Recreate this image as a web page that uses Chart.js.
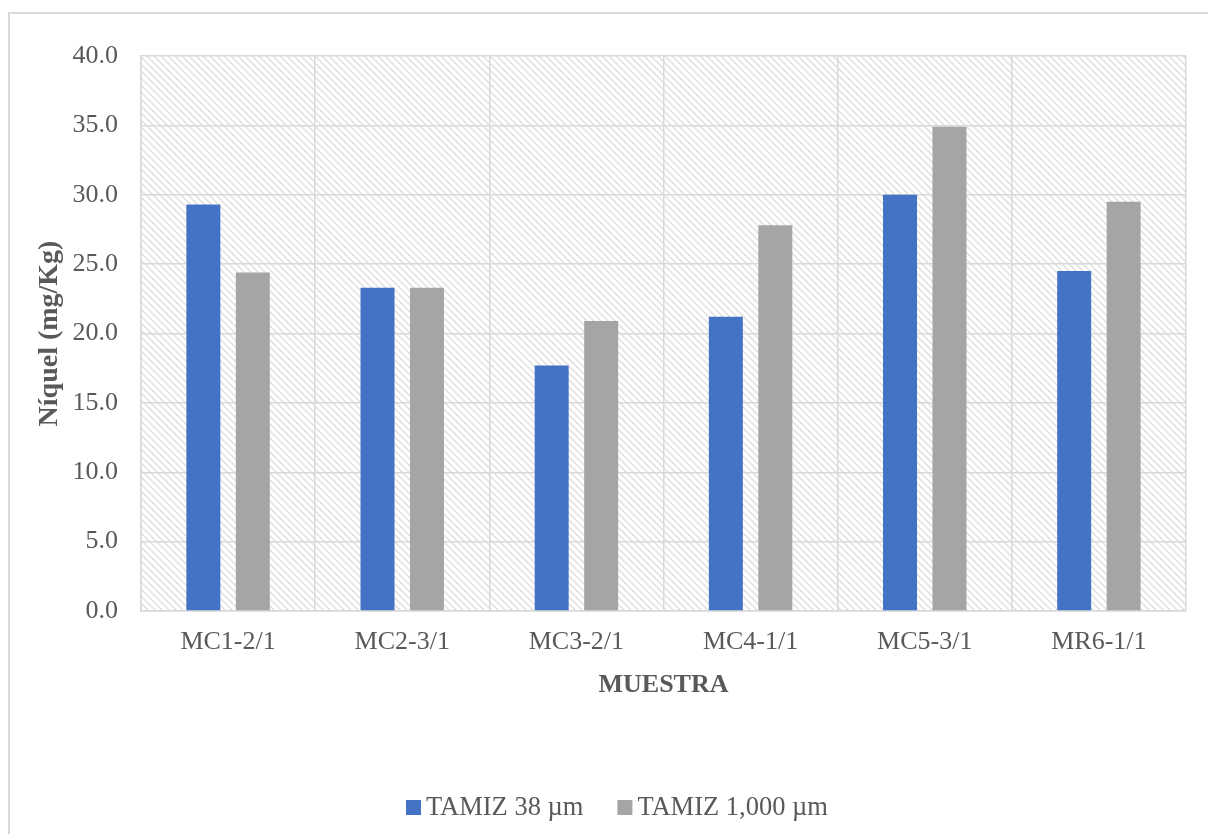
<!DOCTYPE html>
<html>
<head>
<meta charset="utf-8">
<script src="https://cdn.jsdelivr.net/npm/chart.js@4/dist/chart.umd.min.js"></script>
<style>
  html, body { margin: 0; padding: 0; background: #fff; overflow: hidden; }
  #frame { position: absolute; left: 8px; top: 12px; width: 1300px; height: 900px;
           border: 2px solid #d9d9d9; box-sizing: border-box; }
  #wrap { position: absolute; left: 0; top: 0; width: 1208px; height: 834px; }
</style>
</head>
<body>
<div id="frame"></div>
<div id="wrap"><canvas id="c" width="1208" height="834"></canvas></div>
<script>
// Níquel por muestra y tamaño de tamiz
const categories = ['MC1-2/1', 'MC2-3/1', 'MC3-2/1', 'MC4-1/1', 'MC5-3/1', 'MR6-1/1'];
const tamiz38 = [29.3, 23.3, 17.7, 21.2, 30.0, 24.5];
const tamiz1000 = [24.4, 23.3, 20.9, 27.8, 34.9, 29.5];
const seriesNames = ['TAMIZ 38 µm', 'TAMIZ 1,000 µm'];
const yMin = 0, yMax = 40, yStep = 5;

const TEXT = '#595959';
const GRID = '#d9d9d9';
const FONT = "'Liberation Serif', 'Times New Roman', serif";

// diagonal hatch tile for the plot background
const hatchTile = (() => {
  const t = document.createElement('canvas');
  t.width = t.height = 7;
  const g = t.getContext('2d');
  g.strokeStyle = '#dedede';
  g.lineWidth = 1.4;
  g.beginPath();
  g.moveTo(-1, -1); g.lineTo(8, 8);
  g.moveTo(-1, 6); g.lineTo(1, 8);
  g.moveTo(6, -1); g.lineTo(8, 1);
  g.stroke();
  return t;
})();

const hatchBackground = {
  id: 'hatchBackground',
  beforeDraw(chart) {
    const { ctx, chartArea: a } = chart;
    ctx.save();
    ctx.fillStyle = ctx.createPattern(hatchTile, 'repeat');
    ctx.fillRect(a.left, a.top, a.right - a.left, a.bottom - a.top);
    ctx.restore();
  }
};

const bottomLegend = {
  id: 'bottomLegend',
  afterDraw(chart) {
    const ctx = chart.ctx;
    ctx.save();
    ctx.font = '26.5px ' + FONT;
    ctx.textBaseline = 'alphabetic';
    const baseline = 815;
    let x = 406;
    chart.data.datasets.forEach(ds => {
      ctx.fillStyle = ds.backgroundColor;
      ctx.fillRect(x, baseline - 15, 15, 15);
      ctx.fillStyle = TEXT;
      ctx.fillText(ds.label, x + 20, baseline);
      x += 20 + ctx.measureText(ds.label).width + 34;
    });
    ctx.restore();
  }
};

new Chart(document.getElementById('c'), {
  type: 'bar',
  data: {
    labels: categories,
    datasets: [
      { label: seriesNames[0], data: tamiz38, backgroundColor: '#4472C4' },
      { label: seriesNames[1], data: tamiz1000, backgroundColor: '#A5A5A5' }
    ]
  },
  options: {
    responsive: false,
    animation: false,
    layout: { padding: { top: 56, right: 22, bottom: 133, left: 0 } },
    datasets: { bar: { categoryPercentage: 0.568, barPercentage: 0.687 } },
    plugins: { legend: { display: false }, tooltip: { enabled: false } },
    scales: {
      x: {
        grid: { offset: true, color: GRID, lineWidth: 1.5, drawTicks: false },
        border: { color: GRID, width: 1.5 },
        ticks: { color: TEXT, font: { family: FONT, size: 26 }, padding: 16 },
        title: { display: true, text: 'MUESTRA', color: TEXT,
                 font: { family: FONT, size: 26, weight: 'bold' }, padding: { top: 0, bottom: 0 } },
        afterFit(s) { s.height = 90; }
      },
      y: {
        min: yMin, max: yMax,
        grid: { color: GRID, lineWidth: 1.5, drawTicks: false },
        border: { color: GRID, width: 1.5 },
        ticks: { stepSize: yStep, color: TEXT, font: { family: FONT, size: 26 }, padding: 23,
                 callback: v => Number(v).toFixed(1) },
        title: { display: true, text: 'Níquel (mg/Kg)', color: TEXT,
                 font: { family: FONT, size: 28, weight: 'bold' }, padding: { top: 33, bottom: 0 } },
        afterFit(s) { s.width = 141; }
      }
    }
  },
  plugins: [hatchBackground, bottomLegend]
});
</script>
</body>
</html>
